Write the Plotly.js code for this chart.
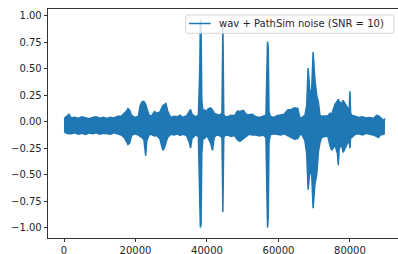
<!DOCTYPE html>
<html>
<head>
<meta charset="utf-8">
<script src="https://cdn.plot.ly/plotly-3.0.1.min.js"></script>
<style>html,body{margin:0;padding:0;background:#fff;}#chart{width:398px;height:254px;}</style>
</head>
<body>
<div id="chart"></div>
<script>
// Envelope of the noisy waveform (sample index, max, min)
const sampleIndex = [0,700,1400,2000,3000,4000,5000,6000,7000,8000,9000,10000,11000,12000,13000,14000,15000,16000,16900,17500,17900,18400,18900,19800,20800,21300,21800,22350,22850,23150,23800,24400,24900,25300,25900,26800,27650,28150,28500,29000,29800,30800,31800,32400,33300,34300,35100,35400,35800,36800,37600,38000,38150,38350,38550,38900,39300,39800,40300,41000,41550,42000,42700,43500,44200,44450,44700,45000,45700,46700,47700,48500,49200,50200,50900,51700,52700,53700,54700,55700,56500,56750,56950,57150,57350,57700,58600,59600,60600,61600,62600,63600,64500,65400,66000,66600,67400,67900,68300,68800,69300,69700,70200,70700,71200,71600,72100,73000,73800,74450,74900,75800,76500,76750,77000,77700,78100,78800,79500,79800,80000,80200,80500,81500,82500,83500,84500,85500,86500,87500,88000,88500,89400,89800];
const upperEnv = [0.030,0.045,0.068,0.035,0.042,0.030,0.045,0.038,0.028,0.040,0.045,0.032,0.040,0.030,0.042,0.035,0.050,0.050,0.075,0.100,0.124,0.105,0.060,0.040,0.050,0.150,0.185,0.190,0.160,0.120,0.060,0.050,0.075,0.095,0.080,0.090,0.150,0.160,0.170,0.100,0.040,0.050,0.045,0.060,0.040,0.055,0.100,0.115,0.070,0.045,0.060,0.500,0.963,0.900,0.200,0.090,0.110,0.095,0.120,0.130,0.110,0.080,0.070,0.060,0.080,0.925,0.070,0.050,0.045,0.060,0.055,0.100,0.095,0.105,0.070,0.065,0.070,0.045,0.040,0.050,0.060,0.450,0.755,0.700,0.100,0.050,0.040,0.055,0.060,0.070,0.110,0.115,0.130,0.125,0.035,0.040,0.060,0.150,0.505,0.280,0.300,0.655,0.395,0.250,0.180,0.060,0.050,0.050,0.055,0.080,0.070,0.160,0.200,0.210,0.190,0.170,0.200,0.160,0.120,0.120,0.285,0.080,0.060,0.050,0.040,0.045,0.035,0.040,0.030,0.060,0.055,0.040,0.010,0.030];
const lowerEnv = [-0.095,-0.110,-0.115,-0.115,-0.105,-0.118,-0.110,-0.120,-0.108,-0.115,-0.105,-0.118,-0.110,-0.112,-0.118,-0.105,-0.115,-0.125,-0.150,-0.185,-0.215,-0.200,-0.130,-0.115,-0.125,-0.140,-0.150,-0.170,-0.320,-0.180,-0.125,-0.120,-0.130,-0.135,-0.130,-0.160,-0.270,-0.240,-0.200,-0.150,-0.120,-0.125,-0.115,-0.130,-0.120,-0.130,-0.200,-0.250,-0.160,-0.125,-0.140,-0.600,-0.998,-0.970,-0.300,-0.140,-0.160,-0.135,-0.150,-0.200,-0.270,-0.150,-0.125,-0.130,-0.150,-0.850,-0.150,-0.130,-0.125,-0.140,-0.130,-0.170,-0.185,-0.160,-0.140,-0.120,-0.125,-0.125,-0.135,-0.125,-0.150,-0.800,-0.998,-0.900,-0.200,-0.125,-0.115,-0.120,-0.125,-0.115,-0.130,-0.150,-0.165,-0.160,-0.120,-0.125,-0.180,-0.300,-0.640,-0.470,-0.500,-0.815,-0.590,-0.500,-0.280,-0.200,-0.150,-0.140,-0.135,-0.230,-0.270,-0.220,-0.300,-0.410,-0.250,-0.220,-0.290,-0.240,-0.190,-0.190,-0.250,-0.150,-0.150,-0.120,-0.115,-0.125,-0.110,-0.120,-0.125,-0.140,-0.150,-0.125,-0.120,-0.110];

const seriesName = 'wav + PathSim noise (SNR = 10)';
const xTickValues = [0, 20000, 40000, 60000, 80000];
const yTickValues = [-1.0, -0.75, -0.5, -0.25, 0.0, 0.25, 0.5, 0.75, 1.0];

const blue = '#1f77b4';
const traces = [
  {x: sampleIndex, y: upperEnv, type: 'scatter', mode: 'lines', name: seriesName,
   line: {color: blue, width: 1.5}, showlegend: false, hoverinfo: 'skip'},
  {x: sampleIndex, y: lowerEnv, type: 'scatter', mode: 'lines', name: seriesName,
   line: {color: blue, width: 1.5}, fill: 'tonexty', fillcolor: blue, showlegend: false, hoverinfo: 'skip'}
];

// matplotlib-style legend box (upper right)
const W = 398, H = 254, mL = 48, mR = 0, mT = 9, mB = 16;
const pw = W - mL - mR, ph = H - mT - mB;
const px = v => (v - mL) / pw;
const py = v => (H - mB - v) / ph;
const bx0 = px(185.7), bx1 = px(394), by0 = py(33.3), by1 = py(15);
const rx = 2 / pw, ry = 2 / ph;
const boxPath = `M ${bx0 + rx} ${by1} L ${bx1 - rx} ${by1} Q ${bx1} ${by1} ${bx1} ${by1 - ry} ` +
  `L ${bx1} ${by0 + ry} Q ${bx1} ${by0} ${bx1 - rx} ${by0} L ${bx0 + rx} ${by0} ` +
  `Q ${bx0} ${by0} ${bx0} ${by0 + ry} L ${bx0} ${by1 - ry} Q ${bx0} ${by1} ${bx0 + rx} ${by1} Z`;

const tickFont = {family: 'DejaVu Sans', size: 10, color: '#262626'};
const layout = {
  width: W, height: H,
  margin: {l: mL, r: mR, t: mT, b: mB, autoexpand: false},
  paper_bgcolor: '#fff', plot_bgcolor: '#fff',
  font: tickFont,
  showlegend: false,
  xaxis: {range: [-4480, 93450], tickvals: xTickValues, tickformat: 'd',
    ticks: 'outside', ticklen: 3.5, tickwidth: 0.8, tickcolor: '#000',
    showline: true, linecolor: '#000', linewidth: 0.8, mirror: true,
    showgrid: false, zeroline: false, tickfont: tickFont},
  yaxis: {range: [-1.096, 1.061], tickvals: yTickValues, tickformat: '.2f',
    ticks: 'outside', ticklen: 3.5, tickwidth: 0.8, tickcolor: '#000',
    showline: true, linecolor: '#000', linewidth: 0.8, mirror: false,
    showgrid: false, zeroline: false, tickfont: tickFont},
  shapes: [
    {type: 'path', xref: 'paper', yref: 'paper', path: boxPath,
     fillcolor: 'rgba(255,255,255,0.8)', line: {color: 'rgba(204,204,204,0.8)', width: 1}},
    {type: 'line', xref: 'paper', yref: 'paper', x0: px(189), x1: px(210.7), y0: py(23.5), y1: py(23.5),
     line: {color: blue, width: 1.5}}
  ],
  annotations: [
    {xref: 'paper', yref: 'paper', x: px(217.5), y: py(23.7), xanchor: 'left', yanchor: 'middle',
     text: seriesName, showarrow: false, borderpad: 0,
     font: {family: 'DejaVu Sans', size: 10, color: '#262626'}}
  ]
};
Plotly.newPlot('chart', traces, layout, {staticPlot: true, displayModeBar: false});
</script>
</body>
</html>
